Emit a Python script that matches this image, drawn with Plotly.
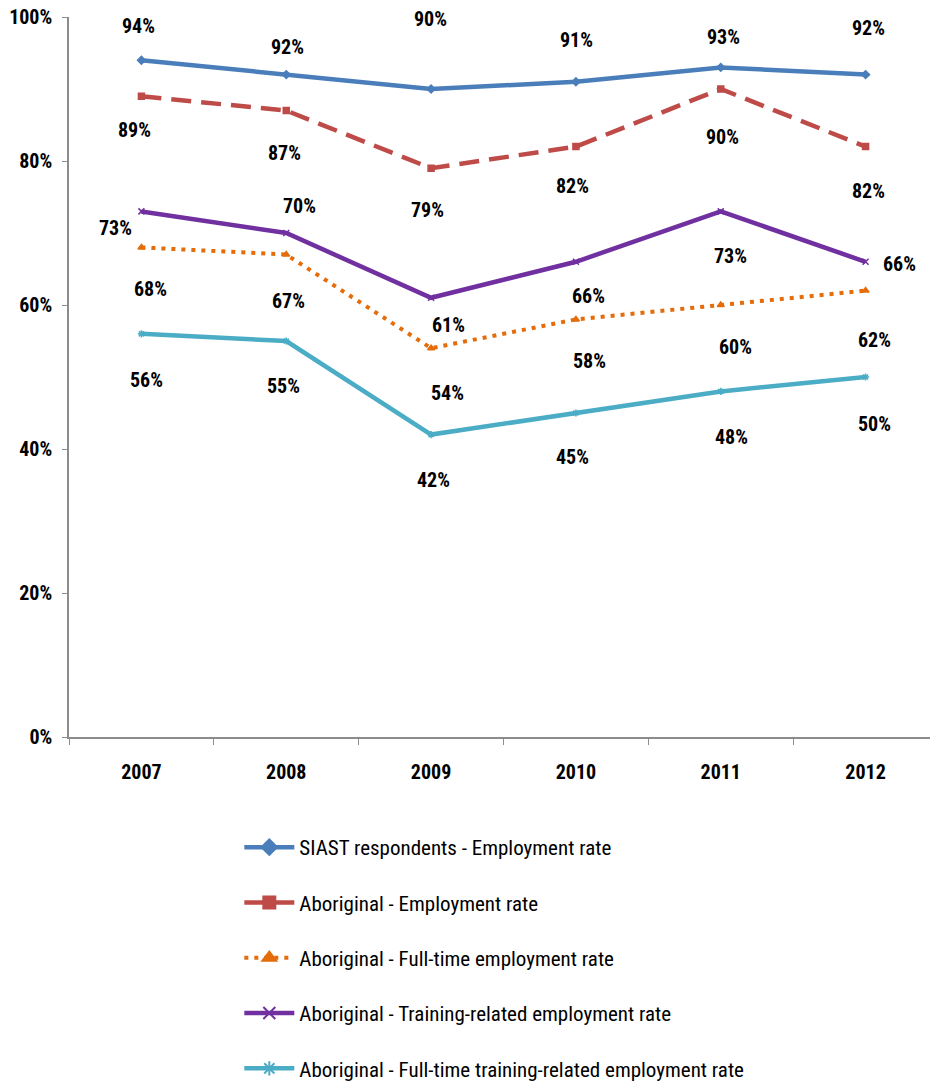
import plotly.graph_objects as go

# ---- data ----
years = ["2007", "2008", "2009", "2010", "2011", "2012"]
siast_employment = [94, 92, 90, 91, 93, 92]
aboriginal_employment = [89, 87, 79, 82, 90, 82]
aboriginal_fulltime = [68, 67, 54, 58, 60, 62]
aboriginal_training = [73, 70, 61, 66, 73, 66]
aboriginal_ft_training = [56, 55, 42, 45, 48, 50]

series_names = [
    "SIAST respondents - Employment rate",
    "Aboriginal - Employment rate",
    "Aboriginal - Full-time employment rate",
    "Aboriginal - Training-related employment rate",
    "Aboriginal - Full-time training-related employment rate",
]
y_ticks = [0, 20, 40, 60, 80, 100]

# ---- styles ----
colors = ["#4A7EBB", "#BE4B48", "#E46C0A", "#7030A0", "#4BACC6"]
dashes = ["solid", "20px,10px", "4px,6px", "solid", "solid"]
widths = [4.5, 4.5, 4, 4.5, 4.5]
symbols = ["diamond", "square", "triangle-up", "x-thin-open", "asterisk-open"]

# label offsets in pixels (xshift, yshift) per series, per year
label_dx = [
    [-3, 1, -1, 1, 3, 3],
    [-7, -2, -4, -3, 2, 3],
    [9, 2, 16, 14, 15, 9],
    [-26, 13, 17, 13, 10, 34],
    [5, -3, 2, -3, 11, 9],
]
label_dy = [
    [34, 28, 70, 42, 30, 47],
    [-34, -42, -42, -39, -48, -44],
    [-42, -46, -45, -42, -42, -49],
    [-17, 27, -27, -34, -45, -2],
    [-46, -45, -45, -44, -46, -47],
]

all_series = [siast_employment, aboriginal_employment, aboriginal_fulltime,
              aboriginal_training, aboriginal_ft_training]

FONT = "Liberation Sans Narrow, Roboto Condensed, Arial Narrow, sans-serif"

fig = go.Figure()
annotations = []
for i, vals in enumerate(all_series):
    fig.add_trace(go.Scatter(
        x=years, y=vals, mode="lines+markers", name=series_names[i],
        showlegend=False,
        line=dict(color=colors[i], width=widths[i], dash=dashes[i]),
        marker=dict(symbol=symbols[i], size=6, color=colors[i],
                    line=dict(color=colors[i], width=1.5)),
    ))
    for j, v in enumerate(vals):
        annotations.append(dict(
            xref="x", yref="y", x=j, y=v, text=f"<b>{v}%</b>", showarrow=False,
            xshift=label_dx[i][j], yshift=label_dy[i][j],
            font=dict(family=FONT, size=20, color="#000000"),
        ))

# legend proxies (larger markers as in the reference legend)
for i in range(len(all_series)):
    fig.add_trace(go.Scatter(
        x=[None], y=[None], mode="lines+markers", name=series_names[i],
        legendgroup=f"g{i}",
        line=dict(color=colors[i], width=widths[i], dash=dashes[i]),
        marker=dict(symbol=symbols[i], size=12, color=colors[i],
                    line=dict(color=colors[i], width=2)),
    ))

fig.update_layout(
    template="none",
    width=930, height=1076,
    margin=dict(l=61, r=0, t=9, b=347, autoexpand=False),
    paper_bgcolor="white", plot_bgcolor="white",
    font=dict(family=FONT, color="#000000"),
    annotations=annotations,
    legend=dict(
        x=0.196, y=-0.125, xanchor="left", yanchor="top",
        orientation="v", tracegroupgap=25, itemwidth=50,
        font=dict(family=FONT, size=21, color="#000000"),
        bgcolor="rgba(0,0,0,0)",
    ),
    xaxis=dict(
        type="category", range=[-0.5, 5.5], automargin=False,
        showline=True, linecolor="#8C8C8C", linewidth=2,
        ticks="outside", tickson="boundaries", ticklen=6, tickcolor="#8C8C8C",
        tickwidth=1, showgrid=False, zeroline=False,
        tickfont=dict(family=FONT, size=20, color="#000000"),
        ticklabelstandoff=16,
        tickvals=years, ticktext=[f"<b>{y}</b>" for y in years],
    ),
    yaxis=dict(
        range=[0, 100], tickvals=y_ticks, automargin=False,
        ticktext=[f"<b>{t}%</b>" for t in y_ticks],
        showline=True, linecolor="#8C8C8C", linewidth=1.5,
        ticks="outside", ticklen=5, tickcolor="#8C8C8C", tickwidth=1,
        showgrid=False, zeroline=False, ticklabelstandoff=6,
        ticklabeloverflow="allow",
        tickfont=dict(family=FONT, size=20, color="#000000"),
    ),
)

fig.write_html("out.html")
